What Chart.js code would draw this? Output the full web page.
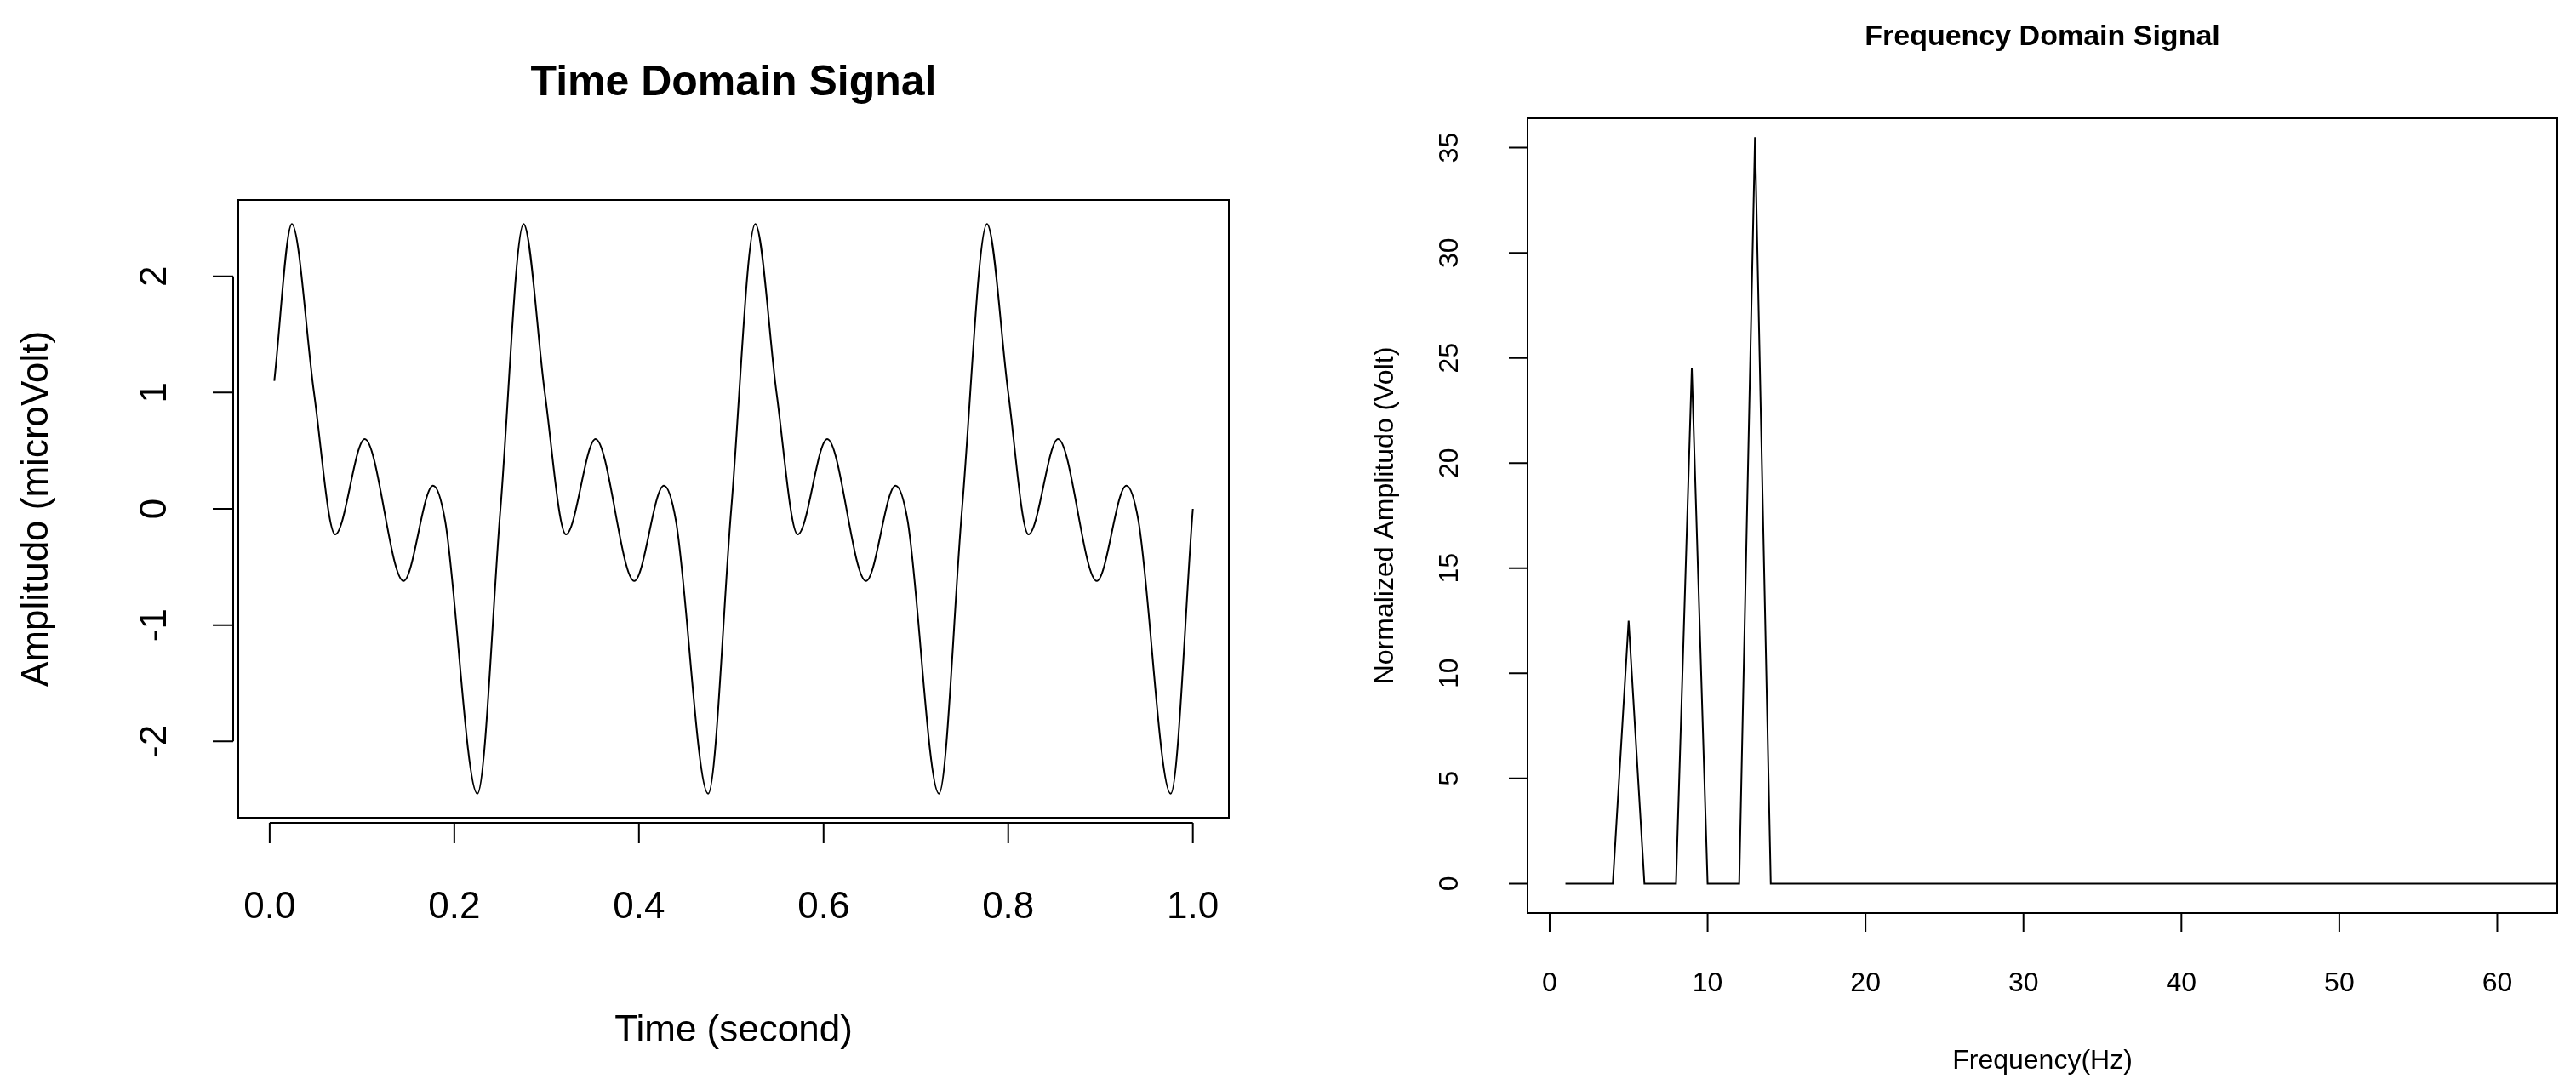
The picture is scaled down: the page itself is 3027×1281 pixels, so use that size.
<!DOCTYPE html>
<html>
<head>
<meta charset="utf-8">
<script src="https://cdn.jsdelivr.net/npm/chart.js@4/dist/chart.umd.min.js"></script>
<style>
body{margin:0;background:#fff;}
#wrapL{position:absolute;left:0;top:0;width:1513px;height:1281px;}
#wrapR{position:absolute;left:1513px;top:0;width:1514px;height:1281px;}
</style>
</head>
<body>
<div id="wrapL"><canvas id="graficaTiempo"></canvas></div>
<div id="wrapR"><canvas id="graficaFrecuencia"></canvas></div>
<script>
// señal en el tiempo
var tiempo = [0.005,0.024,0.048,0.071,0.103,0.145,0.177,0.19,0.225,0.25,
	0.275,0.298,0.321,0.353,0.395,0.427,0.44,0.475,0.50,
	0.526,0.549,0.572,0.604,0.646,0.678,0.691,0.725,0.75,
	0.777,0.80,0.822,0.854,0.896,0.928,0.941,0.976,1.0];
var amplitud = [1.1,2.45,1.0,-0.22,0.6,-0.62,0.2,-0.1,-2.45,0.0,
	2.45,1.0,-0.22,0.6,-0.62,0.2,-0.1,-2.45,0.0,
	2.45,1.0,-0.22,0.6,-0.62,0.2,-0.1,-2.45,0.0,
	2.45,1.0,-0.22,0.6,-0.62,0.2,-0.1,-2.45,0.0];
var ticksTiempoX = [0.0,0.2,0.4,0.6,0.8,1.0];
var ticksTiempoY = [-2,-1,0,1,2];

// espectro
var frecuencia = [1,4,5,6,8,9,10,12,13,14,64];
var magnitud = [0,0,12.5,0,0,24.5,0,0,35.5,0,0];
var ticksFrecX = [0,10,20,30,40,50,60];
var ticksFrecY = [0,5,10,15,20,25,30,35];

function ejesR(cfg){
	return {
		id:'ejesR',
		afterDraw:function(chart){
			var c = chart.ctx, a = chart.chartArea;
			var sx = chart.scales.x, sy = chart.scales.y;
			c.save();
			c.strokeStyle='#000'; c.fillStyle='#000'; c.lineWidth=2;
			c.strokeRect(a.left,a.top,a.right-a.left,a.bottom-a.top);
			var yb = a.bottom+cfg.gap, xl = a.left-cfg.gap;
			// eje x
			c.beginPath();
			c.moveTo(sx.getPixelForValue(cfg.tx[0]),yb);
			c.lineTo(sx.getPixelForValue(cfg.tx[cfg.tx.length-1]),yb);
			cfg.tx.forEach(function(v){
				var p=sx.getPixelForValue(v); c.moveTo(p,yb); c.lineTo(p,yb+cfg.tl);
			});
			// eje y
			c.moveTo(xl,sy.getPixelForValue(cfg.ty[0]));
			c.lineTo(xl,sy.getPixelForValue(cfg.ty[cfg.ty.length-1]));
			cfg.ty.forEach(function(v){
				var p=sy.getPixelForValue(v); c.moveTo(xl,p); c.lineTo(xl-cfg.tl,p);
			});
			c.stroke();
			c.font = cfg.fs+'px "Liberation Sans", Arial';
			c.textAlign='center'; c.textBaseline='middle';
			cfg.tx.forEach(function(v){
				c.fillText(cfg.fmt(v), sx.getPixelForValue(v), cfg.xly);
			});
			cfg.ty.forEach(function(v){
				c.save(); c.translate(cfg.ylx, sy.getPixelForValue(v)); c.rotate(-Math.PI/2);
				c.fillText(String(v),0,0); c.restore();
			});
			var cx=(a.left+a.right)/2, cy=(a.top+a.bottom)/2;
			c.font = cfg.afs+'px "Liberation Sans", Arial';
			c.fillText(cfg.xt, cx, cfg.xty);
			c.save(); c.translate(cfg.ytx, cy); c.rotate(-Math.PI/2); c.fillText(cfg.yt,0,0); c.restore();
			c.font = 'bold '+cfg.tfs+'px "Liberation Sans", Arial';
			c.fillText(cfg.titulo, cx, cfg.ty0);
			c.restore();
		}
	};
}

function opciones(pad, xmin, xmax, ymin, ymax){
	return {
		responsive:true, maintainAspectRatio:false, animation:false,
		layout:{padding:pad},
		plugins:{legend:{display:false}, tooltip:{enabled:false}},
		scales:{
			x:{type:'linear', min:xmin, max:xmax, display:false},
			y:{type:'linear', min:ymin, max:ymax, display:false}
		}
	};
}

new Chart(document.getElementById('graficaTiempo').getContext('2d'), {
	type:'line',
	data:{datasets:[{
		data: tiempo.map(function(t,i){return {x:t,y:amplitud[i]};}),
		borderColor:'#000', borderWidth:2, pointRadius:0,
		cubicInterpolationMode:'monotone'
	}]},
	options: opciones({left:280,top:235,right:69,bottom:320}, -0.034, 1.039, -2.656, 2.656),
	plugins:[ejesR({tx:ticksTiempoX, ty:ticksTiempoY, gap:6, tl:24, fs:44, afs:44, tfs:50,
		fmt:function(v){return v.toFixed(1);}, xly:1067, ylx:183,
		xt:'Time (second)', xty:1212, yt:'Amplitudo (microVolt)', ytx:44,
		titulo:'Time Domain Signal', ty0:98})]
});

new Chart(document.getElementById('graficaFrecuencia').getContext('2d'), {
	type:'line',
	data:{datasets:[{
		data: frecuencia.map(function(f,i){return {x:f,y:magnitud[i]};}),
		borderColor:'#000', borderWidth:2, pointRadius:0, tension:0
	}]},
	options: opciones({left:282,top:139,right:22,bottom:208}, -1.4, 63.8, -1.4, 36.4),
	plugins:[ejesR({tx:ticksFrecX, ty:ticksFrecY, gap:0, tl:22, fs:32, afs:32, tfs:34,
		fmt:function(v){return String(v);}, xly:1156, ylx:1704-1513,
		xt:'Frequency(Hz)', xty:1247, yt:'Normalized Amplitudo (Volt)', ytx:1628-1513,
		titulo:'Frequency Domain Signal', ty0:44})]
});
</script>
</body>
</html>
